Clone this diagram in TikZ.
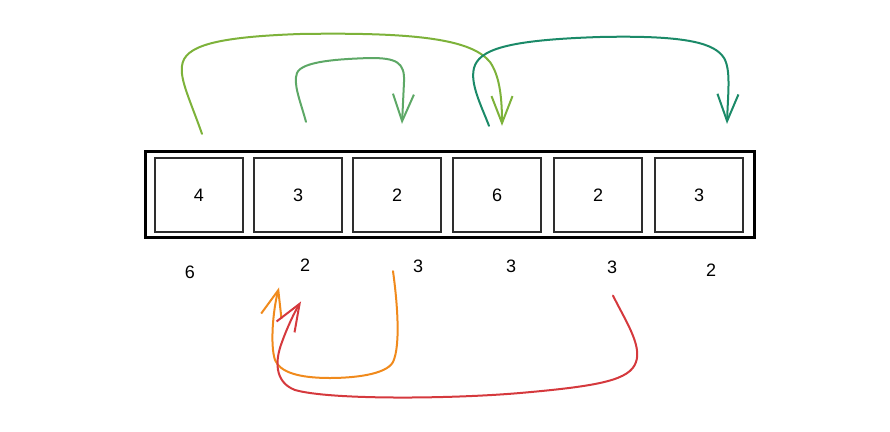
\documentclass[tikz,border=0pt]{standalone}
\usepackage{fontspec}
\setmainfont{Liberation Sans}
\usepackage{xcolor}
\usetikzlibrary{arrows.meta}

\definecolor{leafgreen}{HTML}{7DB23A}
\definecolor{midgreen}{HTML}{5DA866}
\definecolor{teal}{HTML}{1B8A68}
\definecolor{jumporange}{HTML}{F08A1C}
\definecolor{jumpred}{HTML}{D5393D}
\definecolor{inkgray}{HTML}{2E2E2E}

\tikzset{
    cell/.style={draw=inkgray, line width=2.3pt, minimum width=88pt, minimum height=74pt, inner sep=0pt, font=\fontsize{18}{18}\selectfont},
    count/.style={inner sep=0pt, font=\fontsize{18}{18}\selectfont},
    jump/.style={line width=2pt, line cap=round, line join=round, -{Straight Barb[length=27pt, width=21pt, line width=2pt]}}
}

\begin{document}
\begin{tikzpicture}[x=1pt, y=-1pt]
    \useasboundingbox (0,0) rectangle (890,431);

    % the row
    \node[draw=black, line width=2.4pt, minimum width=609pt, minimum height=86pt, inner sep=0pt] (row) at (450,194.5) {};

    \foreach \v/\bx/\n/\lx/\ly [count=\i] in {4/199/6/190/272, 3/298/2/305/265, 2/397/3/418/266, 6/497/3/511/266, 2/598/3/612/267, 3/699/2/711/270} {
        \node[cell] (b\i) at (\bx,195) {\v};
        \node[count] (l\i) at (\lx,\ly) {\n};
    }

    % ends of the jumps
    \coordinate (g1) at ([shift={(3,-23)}]b1.north);
    \coordinate (g2) at ([shift={(5,-31)}]b4.north);
    \coordinate (m1) at ([shift={(8,-35)}]b2.north);
    \coordinate (m2) at ([shift={(5,-33)}]b3.north);
    \coordinate (t1) at ([shift={(-8,-31)}]b4.north);
    \coordinate (t2) at ([shift={(28,-33)}]b6.north);
    \coordinate (o1) at ([shift={(-4,38)}]b3.south);
    \coordinate (o2) at ([shift={(-26,16)}]l2.south);
    \coordinate (r1) at ([shift={(1,22)}]l5.south);
    \coordinate (r2) at ([shift={(-4,30)}]l2.south);

    \draw[jump, leafgreen] (g1) .. controls (190,100) and (180,80) .. (182,66)
        .. controls (184,46) and (215,37) .. (300,34)
        .. controls (420,32) and (472,40) .. (490,62)
        .. controls (499,75) and (502,95) .. (g2);
    \draw[jump, midgreen] (m1) .. controls (300,100) and (293,84) .. (297,73)
        .. controls (302,61) and (340,59) .. (370,58)
        .. controls (396,58) and (405,62) .. (404,82) -- (m2);
    \draw[jump, teal] (t1) .. controls (481,105) and (470,84) .. (474,68)
        .. controls (479,50) and (505,40) .. (600,37)
        .. controls (690,35) and (715,44) .. (724,58)
        .. controls (731,70) and (728,92) .. (t2);

    \draw[jump, jumporange] (o1) .. controls (397,300) and (401,345) .. (393,362)
        .. controls (386,375) and (352,378) .. (330,378)
        .. controls (298,378) and (280,372) .. (275,360)
        .. controls (270,345) and (273,310) .. (o2);
    \draw[jump, jumpred] (r1) .. controls (625,320) and (642,345) .. (636,362)
        .. controls (630,380) and (600,386) .. (520,393)
        .. controls (450,399) and (330,400) .. (295,390)
        .. controls (274,382) and (275,360) .. (282,342)
        .. controls (287,328) and (294,313) .. (r2);
\end{tikzpicture}
\end{document}
